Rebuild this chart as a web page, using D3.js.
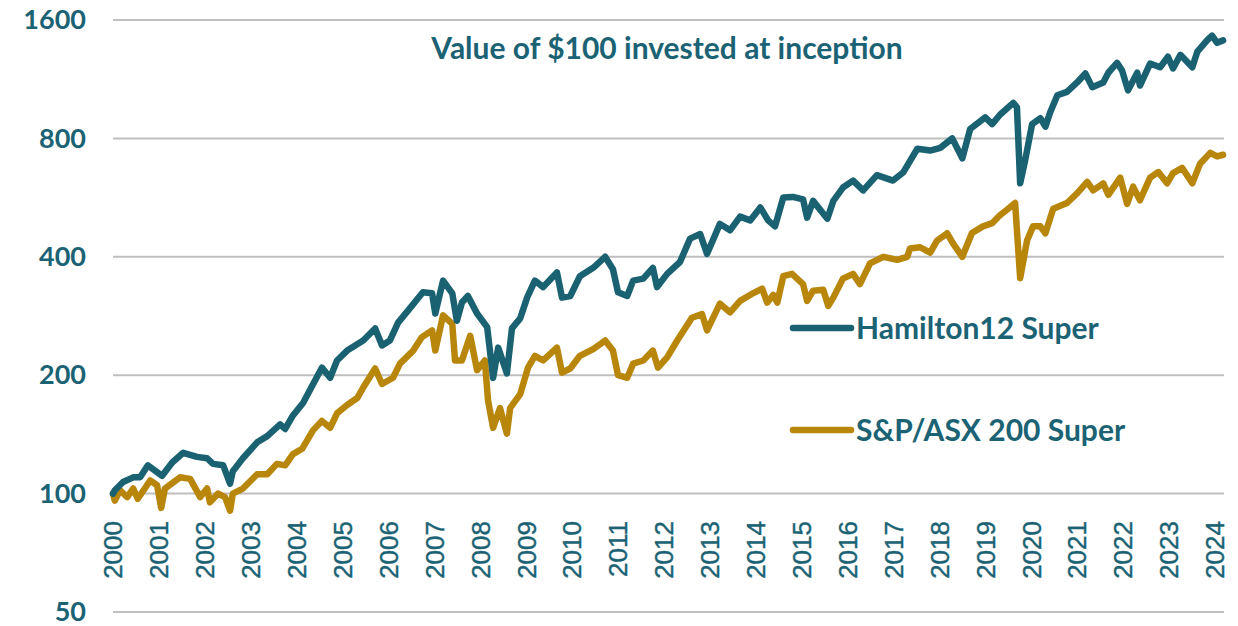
<!DOCTYPE html>
<html>
<head>
<meta charset="utf-8">
<script src="https://cdnjs.cloudflare.com/ajax/libs/d3/7.8.5/d3.min.js"></script>
<style>
  body { margin: 0; background: #fff; }
  svg { display: block; }
</style>
</head>
<body>
<svg id="chart" width="1238" height="626"></svg>
<script>
// year labels along the bottom
var yearLabels = d3.range(2000, 2025);
var yTicks = [50, 100, 200, 400, 800, 1600];

// Hamilton12 Super, value of $100 (time in decimal years)
var hamTime = [2000.00, 2000.04, 2000.22, 2000.44, 2000.59, 2000.76, 2001.07, 2001.29, 2001.53, 2001.83,
  2002.05, 2002.18, 2002.40, 2002.55, 2002.61, 2002.83, 2003.14, 2003.36, 2003.64, 2003.75,
  2003.92, 2004.14, 2004.36, 2004.55, 2004.73, 2004.88, 2005.10, 2005.45, 2005.71, 2005.86,
  2006.03, 2006.21, 2006.51, 2006.75, 2006.95, 2007.02, 2007.19, 2007.39, 2007.49, 2007.60,
  2007.73, 2007.93, 2008.15, 2008.28, 2008.39, 2008.58, 2008.69, 2008.87, 2009.02, 2009.19,
  2009.37, 2009.67, 2009.78, 2009.96, 2010.17, 2010.46, 2010.72, 2010.89, 2011.00, 2011.20,
  2011.33, 2011.55, 2011.76, 2011.85, 2012.07, 2012.35, 2012.57, 2012.79, 2012.94, 2013.22,
  2013.44, 2013.66, 2013.88, 2014.10, 2014.27, 2014.42, 2014.60, 2014.81, 2015.03, 2015.12,
  2015.25, 2015.56, 2015.69, 2015.90, 2016.12, 2016.34, 2016.64, 2016.99, 2017.21, 2017.52,
  2017.80, 2018.02, 2018.28, 2018.50, 2018.67, 2019.00, 2019.15, 2019.32, 2019.61, 2019.69,
  2019.76, 2019.87, 2020.02, 2020.20, 2020.31, 2020.41, 2020.57, 2020.78, 2021.00, 2021.18,
  2021.33, 2021.57, 2021.68, 2021.87, 2021.98, 2022.11, 2022.31, 2022.37, 2022.59, 2022.81,
  2022.98, 2023.09, 2023.25, 2023.51, 2023.62, 2023.83, 2023.94, 2024.05, 2024.18];
var hamValue = [100, 102, 107, 110, 110, 118, 111, 120, 127, 124,
  123, 119, 118, 106, 114, 123, 135, 140, 150, 146,
  158, 170, 190, 209, 197, 218, 231, 245, 263, 238,
  245, 272, 300, 325, 323, 287, 348, 323, 275, 306,
  318, 287, 265, 197, 235, 202, 263, 279, 315, 348,
  335, 365, 315, 318, 357, 375, 400, 372, 325, 318,
  348, 352, 375, 335, 362, 388, 445, 457, 407, 485,
  467, 506, 495, 534, 495, 478, 566, 568, 560, 503,
  555, 500, 555, 600, 625, 590, 645, 625, 655, 753,
  745, 757, 800, 712, 845, 905, 870, 919, 985, 960,
  615, 705, 870, 900, 857, 930, 1030, 1050, 1110, 1170,
  1080, 1110, 1175, 1245, 1190, 1060, 1175, 1090, 1240, 1213,
  1290, 1205, 1305, 1213, 1330, 1420, 1460, 1400, 1420];

// S&P/ASX 200 Super, value of $100
var asxTime = [2000.00, 2000.04, 2000.15, 2000.31, 2000.44, 2000.54, 2000.81, 2000.96, 2001.05, 2001.13,
  2001.46, 2001.68, 2001.90, 2002.05, 2002.11, 2002.29, 2002.44, 2002.55, 2002.61, 2002.83,
  2003.14, 2003.36, 2003.57, 2003.75, 2003.92, 2004.12, 2004.36, 2004.55, 2004.73, 2004.88,
  2005.10, 2005.32, 2005.45, 2005.71, 2005.86, 2006.10, 2006.25, 2006.54, 2006.73, 2006.95,
  2007.02, 2007.19, 2007.39, 2007.45, 2007.60, 2007.78, 2007.93, 2008.10, 2008.17, 2008.28,
  2008.43, 2008.58, 2008.65, 2008.87, 2009.04, 2009.19, 2009.37, 2009.67, 2009.78, 2009.96,
  2010.17, 2010.46, 2010.72, 2010.89, 2011.00, 2011.20, 2011.33, 2011.55, 2011.76, 2011.87,
  2012.07, 2012.29, 2012.61, 2012.83, 2012.94, 2013.22, 2013.44, 2013.66, 2013.94, 2014.14,
  2014.25, 2014.38, 2014.47, 2014.60, 2014.79, 2015.03, 2015.12, 2015.25, 2015.47, 2015.58,
  2015.69, 2015.90, 2016.12, 2016.27, 2016.49, 2016.78, 2017.08, 2017.30, 2017.36, 2017.58,
  2017.80, 2017.95, 2018.17, 2018.30, 2018.50, 2018.71, 2018.95, 2019.15, 2019.32, 2019.50,
  2019.65, 2019.76, 2019.91, 2020.04, 2020.20, 2020.31, 2020.48, 2020.78, 2021.00, 2021.22,
  2021.35, 2021.57, 2021.68, 2021.94, 2022.09, 2022.22, 2022.37, 2022.59, 2022.77, 2022.96,
  2023.09, 2023.29, 2023.51, 2023.68, 2023.90, 2024.05, 2024.18];
var asxValue = [100, 96, 102, 98, 103, 97, 108, 105, 92, 103,
  110, 109, 98, 103, 95, 100, 98, 90.5, 100, 103,
  112, 112, 119, 118, 126, 130, 145, 153, 147, 160,
  168, 175, 186, 208, 190, 197, 214, 231, 250, 260,
  231, 284, 270, 218, 218, 252, 206, 218, 172, 147,
  165, 142, 165, 179, 209, 224, 218, 235, 203, 208,
  224, 233, 245, 231, 200, 197, 214, 218, 231, 209,
  222, 245, 280, 286, 260, 304, 289, 309, 323, 332,
  306, 320, 306, 357, 362, 341, 309, 328, 330, 300,
  315, 352, 362, 341, 385, 400, 393, 400, 420, 423,
  410, 440, 459, 432, 400, 460, 478, 487, 510, 530,
  548, 353, 440, 478, 478, 459, 530, 548, 580, 620,
  590, 615, 575, 636, 545, 603, 557, 636, 657, 615,
  653, 673, 615, 690, 735, 720, 727];

var teal = "#1a6272", gold = "#b8860b", textCol = "#1b6374";

var svg = d3.select("#chart");

var x = d3.scaleLinear().domain([2000, 2024.2]).range([113, 1224]);
var y = d3.scaleLog().domain([50, 1600]).range([612, 20]);

// horizontal gridlines
svg.append("g").selectAll("line")
  .data(yTicks)
  .enter()
  .append("line")
  .attr("x1", x(2000))
  .attr("x2", x(2024.2))
  .attr("y1", function(d){ return y(d); })
  .attr("y2", function(d){ return y(d); })
  .attr("stroke", "#bfbfbf")
  .attr("stroke-width", 2);

// y labels
svg.append("g").selectAll("text")
  .data(yTicks)
  .enter()
  .append("text")
  .attr("x", 86)
  .attr("y", function(d){ return y(d); })
  .attr("dy", "0.34em")
  .attr("text-anchor", "end")
  .attr("fill", textCol)
  .style("font-family", "Lato, 'Noto Sans', sans-serif")
  .style("font-weight", 700)
  .style("font-size", "27px")
  .text(function(d){ return d; });

// year labels, rotated, sitting under the 100 line
svg.append("g").selectAll("text")
  .data(yearLabels)
  .enter()
  .append("text")
  .attr("transform", function(d){ return "translate(" + x(d) + ",521) rotate(-90)"; })
  .attr("dy", "0.36em")
  .attr("text-anchor", "end")
  .attr("fill", textCol)
  .attr("stroke", textCol)
  .attr("stroke-width", 0.4)
  .style("font-family", "'Liberation Sans', Arial, sans-serif")
  .style("font-size", "26px")
  .text(function(d){ return d; });

var line = d3.line()
  .x(function(d){ return x(d[0]); })
  .y(function(d){ return y(d[1]); });

var series = [
  {name: "S&P/ASX 200 Super", color: gold, pts: d3.zip(asxTime, asxValue)},
  {name: "Hamilton12 Super", color: teal, pts: d3.zip(hamTime, hamValue)}
];

svg.append("g").selectAll("path")
  .data(series)
  .enter()
  .append("path")
  .attr("d", function(d){ return line(d.pts); })
  .attr("fill", "none")
  .attr("stroke", function(d){ return d.color; })
  .attr("stroke-width", 6.5)
  .attr("stroke-linejoin", "round")
  .attr("stroke-linecap", "round");

// title
svg.append("text")
  .attr("x", 667)
  .attr("y", 59)
  .attr("text-anchor", "middle")
  .attr("fill", textCol)
  .style("font-family", "Lato, 'Noto Sans', sans-serif")
  .style("font-weight", 700)
  .style("font-size", "30px")
  .text("Value of $100 invested at inception");

// legend
var legend = [
  {name: "Hamilton12 Super", color: teal, ly: 328},
  {name: "S&P/ASX 200 Super", color: gold, ly: 430}
];
var lg = svg.append("g").selectAll("g")
  .data(legend)
  .enter()
  .append("g");
lg.append("line")
  .attr("x1", 793).attr("x2", 851)
  .attr("y1", function(d){ return d.ly; })
  .attr("y2", function(d){ return d.ly; })
  .attr("stroke", function(d){ return d.color; })
  .attr("stroke-width", 6.5)
  .attr("stroke-linecap", "round");
lg.append("text")
  .attr("x", 856)
  .attr("y", function(d){ return d.ly; })
  .attr("dy", "0.36em")
  .attr("fill", textCol)
  .style("font-family", "Lato, 'Noto Sans', sans-serif")
  .style("font-weight", 700)
  .style("font-size", "30px")
  .text(function(d){ return d.name; });
</script>
</body>
</html>
